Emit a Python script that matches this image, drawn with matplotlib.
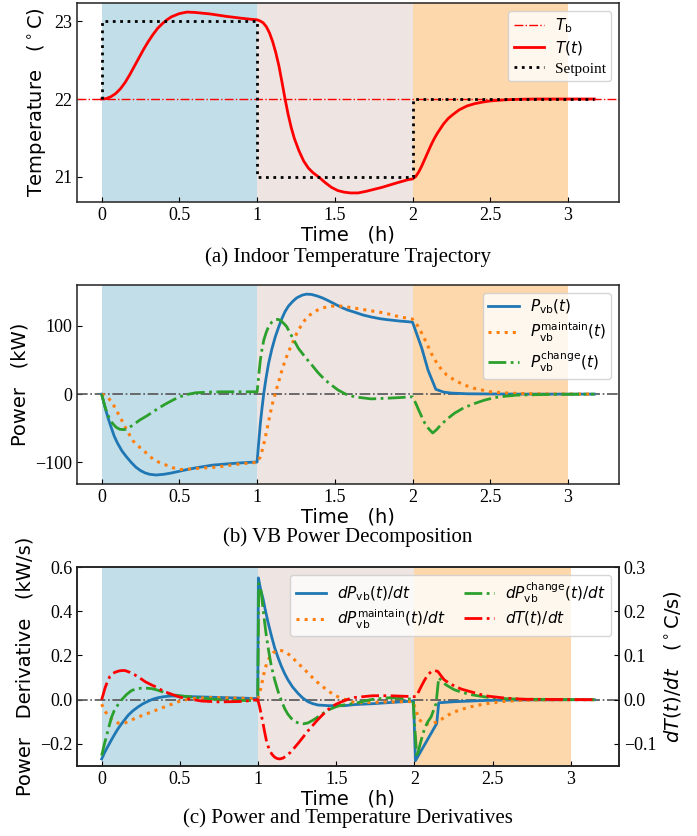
import matplotlib
matplotlib.use("Agg")
import matplotlib.pyplot as plt

plt.rcParams["font.family"] = ["Liberation Serif", "DejaVu Serif"]
plt.rcParams["mathtext.fontset"] = "dejavusans"
plt.rcParams["axes.unicode_minus"] = True

# ---------------- (a) indoor temperature ----------------
t_T = [0, 0.03, 0.06, 0.09, 0.12, 0.15, 0.18, 0.21, 0.24, 0.27, 0.3, 0.33, 0.36, 0.39,
       0.42, 0.45, 0.5, 0.55, 0.6, 0.7, 0.8, 0.9, 0.97, 1.0, 1.02, 1.04, 1.06, 1.08,
       1.1, 1.12, 1.14, 1.16, 1.18, 1.2, 1.22, 1.24, 1.27, 1.3, 1.33, 1.36, 1.4, 1.44,
       1.48, 1.52, 1.56, 1.6, 1.65, 1.7, 1.8, 1.9, 1.97, 2.0, 2.02, 2.04, 2.06, 2.08,
       2.1, 2.12, 2.14, 2.16, 2.18, 2.2, 2.23, 2.26, 2.3, 2.35, 2.4, 2.45, 2.5, 2.6,
       2.7, 2.8, 3.17]
T_in = [22.0, 22.005, 22.03, 22.07, 22.13, 22.21, 22.31, 22.42, 22.53, 22.64, 22.74,
        22.83, 22.91, 22.97, 23.02, 23.06, 23.1, 23.12, 23.115, 23.095, 23.065, 23.04,
        23.025, 23.02, 23.005, 22.98, 22.93, 22.85, 22.74, 22.6, 22.43, 22.22, 22.0,
        21.8, 21.63, 21.49, 21.33, 21.2, 21.11, 21.05, 20.99, 20.92, 20.86, 20.82,
        20.8, 20.79, 20.79, 20.81, 20.86, 20.92, 20.96, 20.97, 21.0, 21.06, 21.14,
        21.23, 21.32, 21.41, 21.49, 21.56, 21.62, 21.68, 21.75, 21.8, 21.86, 21.91,
        21.94, 21.96, 21.975, 21.99, 21.997, 22.0, 22.0]
t_sp = [0, 0, 1, 1, 2, 2, 3.17]
T_sp = [22, 23, 23, 21, 21, 22, 22]
T_base = 22

# ---------------- (b) VB power decomposition ----------------
t_Pvb = [0, 0.02, 0.04, 0.06, 0.08, 0.1, 0.13, 0.16, 0.19, 0.22, 0.25, 0.28, 0.31, 0.35,
         0.4, 0.45, 0.5, 0.55, 0.606, 0.66, 0.713, 0.77, 0.82, 0.88, 0.947, 1.0, 1.01,
         1.021, 1.032, 1.043, 1.058, 1.074, 1.095, 1.117, 1.14, 1.16, 1.18, 1.202, 1.23,
         1.255, 1.29, 1.319, 1.35, 1.383, 1.42, 1.457, 1.5, 1.543, 1.585, 1.628, 1.68,
         1.734, 1.79, 1.84, 1.92, 2.0, 2.06, 2.1, 2.15, 2.2, 2.25, 2.35, 2.5, 2.7, 3.17]
P_vb = [0, -18, -34, -48, -61, -71, -83, -92, -100, -107, -112, -115.5, -117.5, -118.5,
        -117.5, -115.5, -113, -110.5, -108, -106, -104, -103, -102, -101, -100, -99.5,
        -72, -43, -20, 1, 24, 45, 66, 84, 99, 111, 121, 129, 136, 141, 145, 146.5, 146,
        144, 141, 137, 132, 127, 123, 120, 116, 113, 110.5, 109, 107, 105.5, 67, 35, 7,
        3, 1.5, 0.5, 0.2, 0, 0]

t_Pm = [0, 0.02, 0.043, 0.06, 0.074, 0.095, 0.117, 0.14, 0.16, 0.18, 0.2, 0.23, 0.266,
        0.3, 0.33, 0.37, 0.415, 0.46, 0.5, 0.55, 0.606, 0.67, 0.734, 0.8, 0.86, 0.947,
        1.0, 1.021, 1.037, 1.053, 1.069, 1.085, 1.1, 1.117, 1.14, 1.16, 1.18, 1.202,
        1.23, 1.255, 1.28, 1.309, 1.34, 1.372, 1.4, 1.436, 1.48, 1.521, 1.57, 1.628,
        1.68, 1.734, 1.79, 1.84, 1.92, 2.0, 2.03, 2.06, 2.09, 2.12, 2.15, 2.18, 2.22,
        2.27, 2.33, 2.4, 2.5, 2.58, 2.67, 2.85, 3.17]
P_maintain = [0, -2, -6, -10, -15, -24, -33, -43, -52, -60, -68, -75, -82, -89, -95,
              -100, -104, -108, -110.5, -110, -109, -108, -107, -105, -103, -101, -100,
              -92, -79, -63, -46, -28, -13, 1, 19, 35, 49, 62, 76, 89, 99, 109, 116, 121,
              124.5, 127, 128.8, 129.4, 128, 126, 124, 122, 120, 117.6, 113, 110, 101,
              89, 75, 60, 48, 38, 28, 20.6, 13.5, 8.3, 3.4, 2, 1, 0.3, 0]

t_Pc = [0, 0.016, 0.032, 0.048, 0.064, 0.08, 0.096, 0.117, 0.138, 0.155, 0.17, 0.2,
        0.245, 0.29, 0.33, 0.37, 0.415, 0.46, 0.5, 0.55, 0.606, 0.7, 0.777, 0.947, 1.0,
        1.006, 1.013, 1.021, 1.032, 1.043, 1.058, 1.074, 1.095, 1.117, 1.135, 1.15, 1.17,
        1.19, 1.225, 1.266, 1.31, 1.351, 1.39, 1.436, 1.48, 1.521, 1.57, 1.628, 1.734,
        1.84, 1.92, 2.0, 2.02, 2.04, 2.06, 2.08, 2.105, 2.13, 2.155, 2.18, 2.22, 2.27,
        2.33, 2.4, 2.46, 2.53, 2.6, 2.67, 2.85, 3.17]
P_change = [0, -14, -26, -34.5, -41, -45.5, -49, -51.5, -52, -51.5, -50, -45.5, -38,
            -32, -26, -20, -14, -8.5, -4, -0.5, 2, 3, 3.4, 3.4, 3.4, 16, 33, 50, 66, 79,
            90, 99, 105.5, 109, 109.5, 108, 104, 99, 84, 67, 54, 43, 32, 21, 13, 6, 0,
            -4, -7, -6, -5, -4, -13, -23.5, -33.5, -43, -51, -57, -52, -45.6, -37, -28,
            -20, -13.7, -9, -5, -3, -1.5, -0.5, 0]

# ---------------- (c) derivatives ----------------
t_dPvb = [0, 0.02, 0.043, 0.064, 0.085, 0.106, 0.128, 0.15, 0.17, 0.2, 0.234, 0.265,
          0.3, 0.33, 0.36, 0.4, 0.447, 0.5, 0.553, 0.66, 0.8, 0.95, 0.998, 1.002, 1.016,
          1.032, 1.048, 1.064, 1.085, 1.106, 1.128, 1.149, 1.17, 1.191, 1.22, 1.255,
          1.285, 1.319, 1.35, 1.383, 1.447, 1.553, 1.617, 1.734, 1.84, 1.947, 1.994,
          2.006, 2.142, 2.155, 2.255, 2.47, 2.7, 3.15]
dP_vb = [-0.268, -0.237, -0.207, -0.18, -0.154, -0.13, -0.108, -0.088, -0.07, -0.05,
         -0.032, -0.018, -0.006, 0.003, 0.009, 0.014, 0.017, 0.016, 0.014, 0.012, 0.009,
         0.006, 0.005, 0.551, 0.5, 0.456, 0.4, 0.349, 0.29, 0.235, 0.19, 0.151, 0.118,
         0.09, 0.058, 0.029, 0.008, -0.009, -0.018, -0.024, -0.027, -0.027, -0.022,
         -0.018, -0.013, -0.008, -0.006, -0.276, -0.108, -0.014, -0.009, -0.003,
         -0.001, 0]

t_dPm = [0, 0.02, 0.043, 0.06, 0.075, 0.09, 0.106, 0.128, 0.149, 0.19, 0.234, 0.28,
         0.32, 0.36, 0.404, 0.45, 0.49, 0.54, 0.596, 0.7, 0.85, 0.998, 1.01, 1.02, 1.032,
         1.043, 1.054, 1.064, 1.08, 1.096, 1.112, 1.128, 1.15, 1.17, 1.2, 1.234, 1.266,
         1.298, 1.33, 1.362, 1.394, 1.426, 1.458, 1.489, 1.52, 1.553, 1.59, 1.628, 1.734,
         1.84, 1.99, 2.01, 2.03, 2.06, 2.1, 2.15, 2.2, 2.255, 2.31, 2.36, 2.42, 2.47,
         2.57, 2.68, 2.8, 3.15]
dP_maintain = [-0.02, -0.05, -0.075, -0.086, -0.093, -0.101, -0.106, -0.108, -0.105,
               -0.092, -0.078, -0.066, -0.055, -0.044, -0.032, -0.02, -0.009, 0.0,
               0.006, 0.01, 0.008, 0.005, 0.03, 0.06, 0.1, 0.136, 0.16, 0.18, 0.198,
               0.212, 0.22, 0.224, 0.222, 0.217, 0.203, 0.18, 0.158, 0.136, 0.113, 0.09,
               0.07, 0.052, 0.035, 0.021, 0.01, 0.002, -0.008, -0.014, -0.012, -0.01,
               -0.008, -0.05, -0.09, -0.108, -0.11, -0.1, -0.075, -0.055, -0.042,
               -0.032, -0.023, -0.017, -0.008, -0.003, -0.001, 0]

t_dPc = [0, 0.016, 0.032, 0.048, 0.064, 0.08, 0.096, 0.112, 0.128, 0.16, 0.19, 0.22,
         0.255, 0.29, 0.32, 0.35, 0.383, 0.425, 0.468, 0.51, 0.553, 0.66, 0.8, 0.95,
         0.998, 1.004, 1.012, 1.02, 1.032, 1.042, 1.053, 1.069, 1.085, 1.106, 1.128,
         1.15, 1.17, 1.19, 1.213, 1.24, 1.266, 1.29, 1.319, 1.35, 1.383, 1.415, 1.447,
         1.48, 1.51, 1.56, 1.617, 1.68, 1.734, 1.84, 1.92, 1.99, 2.015, 2.04, 2.064,
         2.085, 2.106, 2.138, 2.155, 2.175, 2.2, 2.23, 2.255, 2.3, 2.36, 2.42, 2.47,
         2.57, 2.7, 3.15]
dP_change = [-0.253, -0.205, -0.162, -0.118, -0.078, -0.05, -0.032, -0.014, 0.0, 0.024,
             0.041, 0.049, 0.052, 0.052, 0.05, 0.045, 0.037, 0.028, 0.021, 0.017, 0.014,
             0.006, -0.003, -0.004, -0.003, 0.525, 0.51, 0.487, 0.41, 0.35, 0.288, 0.215,
             0.151, 0.09, 0.037, -0.006, -0.04, -0.065, -0.085, -0.1, -0.108, -0.109,
             -0.105, -0.093, -0.078, -0.062, -0.047, -0.037, -0.029, -0.022, -0.017,
             -0.006, 0.002, 0.009, 0.006, 0.002, -0.26, -0.19, -0.131, -0.1, -0.078,
             -0.017, 0.1, 0.085, 0.068, 0.055, 0.045, 0.034, 0.023, 0.016, 0.011, 0.005,
             0.002, 0]

t_dT = [0, 0.01, 0.021, 0.037, 0.053, 0.07, 0.085, 0.11, 0.13, 0.149, 0.18, 0.213,
        0.245, 0.277, 0.31, 0.34, 0.37, 0.404, 0.45, 0.49, 0.53, 0.574, 0.638, 0.75, 0.9,
        0.998, 1.01, 1.021, 1.032, 1.042, 1.053, 1.064, 1.074, 1.09, 1.106, 1.122, 1.138,
        1.16, 1.18, 1.207, 1.234, 1.26, 1.287, 1.313, 1.34, 1.372, 1.404, 1.436, 1.468,
        1.5, 1.532, 1.575, 1.617, 1.734, 1.84, 1.99, 2.01, 2.025, 2.043, 2.064, 2.085,
        2.105, 2.128, 2.149, 2.17, 2.19, 2.22, 2.255, 2.3, 2.36, 2.42, 2.47, 2.57, 2.7,
        3.15]
dT = [0, 0.012, 0.026, 0.041, 0.053, 0.059, 0.062, 0.065, 0.066, 0.066, 0.062, 0.056,
      0.049, 0.041, 0.035, 0.03, 0.024, 0.018, 0.012, 0.007, 0.003, 0.001, -0.003,
      -0.005, -0.004, 0.0, -0.016, -0.035, -0.054, -0.073, -0.092, -0.105, -0.115,
      -0.124, -0.13, -0.133, -0.134, -0.132, -0.127, -0.119, -0.108, -0.097, -0.085,
      -0.073, -0.062, -0.049, -0.037, -0.026, -0.016, -0.01, -0.005, 0.001, 0.005,
      0.009, 0.009, 0.007, 0.007, 0.017, 0.03, 0.044, 0.056, 0.063, 0.066, 0.064, 0.054,
      0.045, 0.038, 0.031, 0.024, 0.018, 0.012, 0.008, 0.004, 0.001, 0]

x_ticks = [0, 0.5, 1, 1.5, 2, 2.5, 3]
x_ticklabels = ["0", "0.5", "1", "1.5", "2", "2.5", "3"]
phases = [(0, 1, "#C2DEE8"), (1, 2, "#EEE4E1"), (2, 3, "#FDD8AD")]

SANS = "DejaVu Sans"
LBL = 14
TICK = 13
LEG = 11
CAP = 15
LEG_KW = dict(fontsize=LEG, labelspacing=0.3, borderpad=0.35, handletextpad=0.7)

fig = plt.figure(figsize=(6.97, 8.36), dpi=100)
ax1 = fig.add_axes([0.1105, 0.7584, 0.7776, 0.238])
ax2 = fig.add_axes([0.1105, 0.4210, 0.7776, 0.238])
ax3 = fig.add_axes([0.1105, 0.0837, 0.7776, 0.238])


def style(ax):
    for a, b, c in phases:
        ax.axvspan(a, b, color=c, lw=0, zorder=0)
    ax.set_xticks(x_ticks)
    ax.set_xticklabels(x_ticklabels)
    ax.tick_params(direction="in", labelsize=TICK)
    ax.set_xlabel("Time   (h)", fontsize=LBL, family=SANS, labelpad=1)
    for s in ax.spines.values():
        s.set_linewidth(1.1)
        s.set_color("#222222")


# (a)
style(ax1)
ax1.axhline(T_base, color="red", ls="-.", lw=1.0, label=r"$T_\mathrm{b}$")
ax1.plot(t_T, T_in, color="red", lw=2.0, label=r"$T(t)$")
ax1.plot(t_sp, T_sp, color="black", ls=":", lw=2.0, label="Setpoint")
ax1.set_yticks([21, 22, 23])
ax1.set_ylabel(r"Temperature   ($^\circ$C)", fontsize=LBL, family=SANS)
ax1.legend(loc="upper right", **LEG_KW)

# (b)
style(ax2)
ax2.axhline(0, color="#555555", ls="-.", lw=1.2)
ax2.plot(t_Pvb, P_vb, color="C0", lw=2.0, label=r"$P_\mathrm{vb}(t)$")
ax2.plot(t_Pm, P_maintain, color="C1", ls=":", lw=2.2,
         label=r"$P_\mathrm{vb}^\mathrm{maintain}(t)$")
ax2.plot(t_Pc, P_change, color="C2", ls="-.", lw=2.0,
         label=r"$P_\mathrm{vb}^\mathrm{change}(t)$")
ax2.set_yticks([-100, 0, 100])
ax2.set_ylabel("Power   (kW)", fontsize=LBL, family=SANS)
ax2.legend(loc="upper right", **LEG_KW)

# (c)
style(ax3)
ax3.axhline(0, color="#555555", ls="-.", lw=1.2)
h1, = ax3.plot(t_dPvb, dP_vb, color="C0", lw=2.0, label=r"$dP_\mathrm{vb}(t)/dt$")
h2, = ax3.plot(t_dPm, dP_maintain, color="C1", ls=":", lw=2.2,
               label=r"$dP_\mathrm{vb}^\mathrm{maintain}(t)/dt$")
h3, = ax3.plot(t_dPc, dP_change, color="C2", ls="-.", lw=2.0,
               label=r"$dP_\mathrm{vb}^\mathrm{change}(t)/dt$")
ax3.set_ylim(-0.3, 0.6)
ax3.set_yticks([-0.2, 0.0, 0.2, 0.4, 0.6])
ax3.set_yticklabels(["\u22120.2", "0.0", "0.2", "0.4", "0.6"])
ax3.set_ylabel("Power   Derivative   (kW/s)", fontsize=LBL, family=SANS)

ax3r = ax3.twinx()
h4, = ax3r.plot(t_dT, dT, color="red", ls="-.", lw=2.0, label=r"$dT(t)/dt$")
ax3r.set_ylim(-0.15, 0.3)
ax3r.set_yticks([-0.1, 0.0, 0.1, 0.2, 0.3])
ax3r.set_yticklabels(["\u22120.1", "0.0", "0.1", "0.2", "0.3"])
ax3r.tick_params(direction="in", labelsize=TICK)
ax3r.set_ylabel(r"$dT(t)/dt$   ($^\circ$C/s)", fontsize=LBL, family=SANS)
for s in ax3r.spines.values():
    s.set_linewidth(1.1)
    s.set_color("#222222")
ax3r.legend(handles=[h1, h2, h3, h4], loc="upper right", ncol=2,
            columnspacing=1.2, **LEG_KW)

fig.text(0.4993, 1 - 257 / 836, "(a) Indoor Temperature Trajectory",
         ha="center", va="center", fontsize=CAP)
fig.text(0.4993, 1 - 537 / 836, "(b) VB Power Decomposition",
         ha="center", va="center", fontsize=CAP)
fig.text(0.4993, 1 - 818 / 836, "(c) Power and Temperature Derivatives",
         ha="center", va="center", fontsize=CAP)

fig.savefig("out.png", dpi=100)
